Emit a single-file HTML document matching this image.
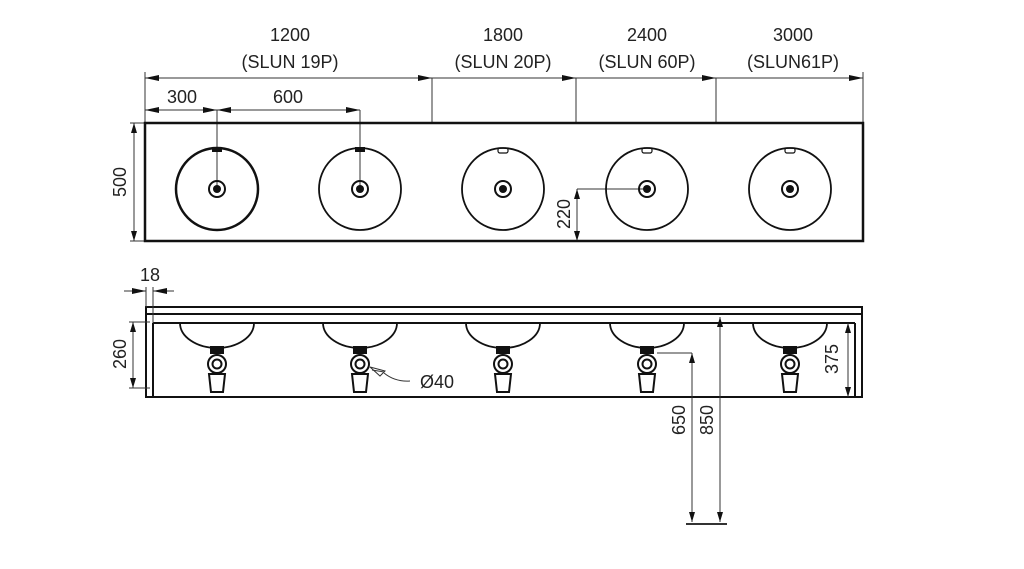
<!DOCTYPE html>
<html><head><meta charset="utf-8"><style>
html,body{margin:0;padding:0;background:#fff;}
svg{display:block;}
text{font-family:"Liberation Sans",sans-serif;font-size:18px;fill:#222;}
</style></head><body>
<svg width="1024" height="569" viewBox="0 0 1024 569" xmlns="http://www.w3.org/2000/svg">
<defs>
<marker id="a" viewBox="0 0 10 6" refX="10" refY="3" markerWidth="10" markerHeight="6" markerUnits="userSpaceOnUse" orient="auto-start-reverse"><path d="M0,0 L10,3 L0,6 z" fill="#111"/></marker>
<marker id="b" viewBox="0 0 14 6" refX="14" refY="3" markerWidth="14" markerHeight="6" markerUnits="userSpaceOnUse" orient="auto-start-reverse"><path d="M0,0 L14,3 L0,6 z" fill="#111"/></marker>
</defs>
<g stroke="#333" stroke-width="1" fill="none">
<line x1="145" y1="78" x2="432" y2="78" marker-start="url(#b)" marker-end="url(#b)"/>
<line x1="432" y1="78" x2="576" y2="78" marker-end="url(#b)"/>
<line x1="576" y1="78" x2="716" y2="78" marker-end="url(#b)"/>
<line x1="716" y1="78" x2="863" y2="78" marker-end="url(#b)"/>
<line x1="145" y1="72" x2="145" y2="123"/>
<line x1="432" y1="78" x2="432" y2="123"/>
<line x1="576" y1="78" x2="576" y2="123"/>
<line x1="716" y1="78" x2="716" y2="123"/>
<line x1="863" y1="72" x2="863" y2="123"/>
<line x1="145" y1="110" x2="217" y2="110" marker-start="url(#b)" marker-end="url(#b)"/>
<line x1="217" y1="110" x2="360" y2="110" marker-start="url(#b)" marker-end="url(#b)"/>
<line x1="217" y1="110" x2="217" y2="189"/>
<line x1="360" y1="110" x2="360" y2="189"/>
<line x1="134" y1="123" x2="134" y2="241" marker-start="url(#a)" marker-end="url(#a)"/>
<line x1="130" y1="123" x2="145" y2="123"/>
<line x1="130" y1="241" x2="145" y2="241"/>
<line x1="577" y1="189" x2="647" y2="189"/>
<line x1="577" y1="189" x2="577" y2="241" marker-start="url(#a)" marker-end="url(#a)"/>
</g>
<rect x="145" y="123" width="718" height="118" fill="none" stroke="#111" stroke-width="2.5"/>
<g fill="none" stroke="#111">
<circle cx="217" cy="189" r="41" stroke-width="2.5"/>
<circle cx="360" cy="189" r="41" stroke-width="1.8"/>
<circle cx="503" cy="189" r="41" stroke-width="1.8"/>
<circle cx="647" cy="189" r="41" stroke-width="1.8"/>
<circle cx="790" cy="189" r="41" stroke-width="1.8"/>
<g stroke-width="2">
<circle cx="217" cy="189" r="8"/><circle cx="360" cy="189" r="8"/><circle cx="503" cy="189" r="8"/><circle cx="647" cy="189" r="8"/><circle cx="790" cy="189" r="8"/>
</g>
</g>
<g fill="#111">
<circle cx="217" cy="189" r="4"/><circle cx="360" cy="189" r="4"/><circle cx="503" cy="189" r="4"/><circle cx="647" cy="189" r="4"/><circle cx="790" cy="189" r="4"/>
<rect x="212" y="147" width="10" height="5"/><rect x="355" y="147" width="10" height="5"/>
</g>
<g fill="none" stroke="#111" stroke-width="1.2">
<rect x="498" y="148" width="10" height="5" rx="2"/><rect x="642" y="148" width="10" height="5" rx="2"/><rect x="785" y="148" width="10" height="5" rx="2"/>
</g>
<g fill="none" stroke="#111" stroke-width="2">
<path d="M146,397 L146,307 L862,307 L862,397 Z"/>
<line x1="146" y1="314" x2="862" y2="314"/>
<line x1="153" y1="323" x2="855" y2="323"/>
<line x1="153" y1="323" x2="153" y2="397"/>
<line x1="855" y1="323" x2="855" y2="397"/>
</g>
<g fill="none" stroke="#111" stroke-width="1.8">
<path d="M180,323 A37,25 0 0 0 254,323"/><path d="M323,323 A37,25 0 0 0 397,323"/><path d="M466,323 A37,25 0 0 0 540,323"/><path d="M610,323 A37,25 0 0 0 684,323"/><path d="M753,323 A37,25 0 0 0 827,323"/>
</g>
<g fill="#111">
<rect x="210" y="346" width="14" height="8"/><rect x="353" y="346" width="14" height="8"/><rect x="496" y="346" width="14" height="8"/><rect x="640" y="346" width="14" height="8"/><rect x="783" y="346" width="14" height="8"/>
</g>
<g fill="#fff" stroke="#111" stroke-width="2">
<circle cx="217" cy="364" r="9"/><circle cx="360" cy="364" r="9"/><circle cx="503" cy="364" r="9"/><circle cx="647" cy="364" r="9"/><circle cx="790" cy="364" r="9"/>
<circle cx="217" cy="364" r="4.5"/><circle cx="360" cy="364" r="4.5"/><circle cx="503" cy="364" r="4.5"/><circle cx="647" cy="364" r="4.5"/><circle cx="790" cy="364" r="4.5"/>
<path d="M209,374 L225,374 L223,392 L211,392 Z"/><path d="M352,374 L368,374 L366,392 L354,392 Z"/><path d="M495,374 L511,374 L509,392 L497,392 Z"/><path d="M639,374 L655,374 L653,392 L641,392 Z"/><path d="M782,374 L798,374 L796,392 L784,392 Z"/>
</g>
<g fill="none" stroke="#333" stroke-width="1">
<path d="M370,367 L385,371 L380,376 Z"/>
<line x1="372" y1="370" x2="384" y2="372"/>
<path d="M384,373 Q395,382 410,381"/>
</g>
<g stroke="#333" stroke-width="1" fill="none">
<line x1="124" y1="291" x2="146" y2="291" marker-end="url(#b)"/>
<line x1="174" y1="291" x2="153" y2="291" marker-end="url(#b)"/>
<line x1="146" y1="287" x2="146" y2="307"/>
<line x1="153" y1="287" x2="153" y2="323"/>
<line x1="133" y1="322" x2="133" y2="388" marker-start="url(#a)" marker-end="url(#a)"/>
<line x1="129" y1="322" x2="150" y2="322"/>
<line x1="129" y1="388" x2="150" y2="388"/>
<line x1="848" y1="323" x2="848" y2="397" marker-start="url(#a)" marker-end="url(#a)"/>
<line x1="657" y1="353" x2="692" y2="353"/>
<line x1="692" y1="353" x2="692" y2="522" marker-start="url(#a)" marker-end="url(#a)"/>
<line x1="720" y1="317" x2="720" y2="522" marker-start="url(#a)" marker-end="url(#a)"/>
<line x1="686" y1="524" x2="727" y2="524" stroke-width="2"/>
</g>
<g text-anchor="middle">
<text x="290" y="41">1200</text><text x="290" y="68">(SLUN 19P)</text>
<text x="503" y="41">1800</text><text x="503" y="68">(SLUN 20P)</text>
<text x="647" y="41">2400</text><text x="647" y="68">(SLUN 60P)</text>
<text x="793" y="41">3000</text><text x="793" y="68">(SLUN61P)</text>
<text x="182" y="103">300</text>
<text x="288" y="103">600</text>
<text x="150" y="281">18</text>
<text transform="translate(126,182) rotate(-90)">500</text>
<text transform="translate(570,214) rotate(-90)">220</text>
<text transform="translate(126,354) rotate(-90)">260</text>
<text transform="translate(838,359) rotate(-90)">375</text>
<text transform="translate(685,420) rotate(-90)">650</text>
<text transform="translate(713,420) rotate(-90)">850</text>
</g>
<text x="420" y="388">Ø40</text>
</svg>
</body></html>
